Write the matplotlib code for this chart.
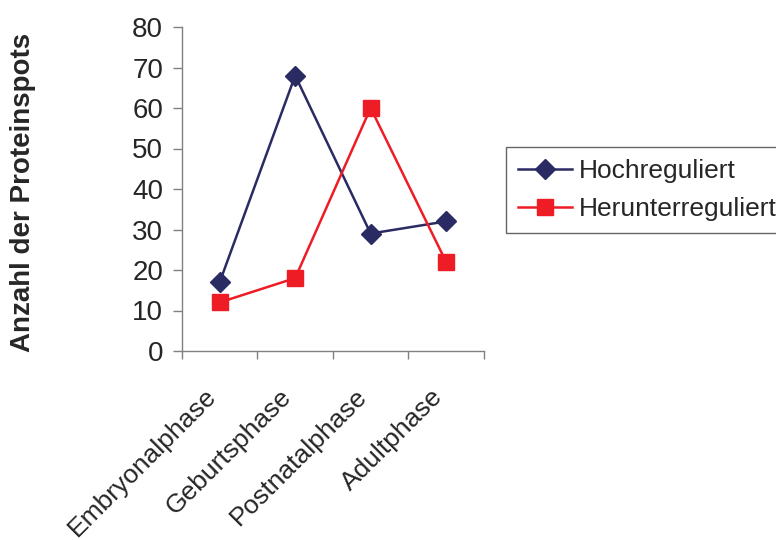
import numpy as np
import matplotlib.pyplot as plt
from matplotlib.transforms import ScaledTranslation

# -------------------------------
# Data
# -------------------------------
phases = ["Embryonalphase", "Geburtsphase", "Postnatalphase", "Adultphase"]
hochreguliert = [17, 68, 29, 32]
herunterreguliert = [12, 18, 60, 22]
y_ticks = [0, 10, 20, 30, 40, 50, 60, 70, 80]

plt.rcParams["font.family"] = ["Liberation Sans", "DejaVu Sans"]
text_color = "#262626"
axis_color = "#808080"

fig = plt.figure(figsize=(7.76, 5.4), dpi=100)
ax = fig.add_axes([0.2345, 0.35, 0.389, 0.60])

x = np.arange(len(phases))
ax.plot(x, hochreguliert, color="#2B2B63", linewidth=1.8, marker="D",
        markersize=10.5, label="Hochreguliert")
ax.plot(x, herunterreguliert, color="#EE1C25", linewidth=1.8, marker="s",
        markersize=11, label="Herunterreguliert")

ax.set_xlim(-0.5, len(phases) - 0.5)
ax.set_ylim(0, 80)
ax.set_yticks(y_ticks)

# boundary ticks between categories, labels at category centres
ax.set_xticks(np.arange(-0.5, len(phases)), labels=[])
ax.set_xticks(x, labels=phases, minor=True)
ax.tick_params(axis="x", which="major", length=5.5, width=1, color=axis_color)
ax.tick_params(axis="x", which="minor", length=0, pad=24)
ax.tick_params(axis="y", length=6.5, width=1, color=axis_color, pad=7)
shift = ScaledTranslation(-16 / 100, 0, fig.dpi_scale_trans)
for lab in ax.get_xticklabels(minor=True):
    lab.set_rotation(45)
    lab.set_ha("right")
    lab.set_va("top")
    lab.set_rotation_mode("anchor")
    lab.set_fontsize(19)
    lab.set_color(text_color)
    lab.set_transform(lab.get_transform() + shift)
for lab in ax.get_yticklabels():
    lab.set_fontsize(20)
    lab.set_color(text_color)

for side in ["top", "right"]:
    ax.spines[side].set_visible(False)
for side in ["left", "bottom"]:
    ax.spines[side].set_color(axis_color)
    ax.spines[side].set_linewidth(1)

fig.text(0.0296, 0.643, "Anzahl der Proteinspots", rotation=90, ha="center",
         va="center", fontsize=20, fontweight="bold", color=text_color)

leg = fig.legend(loc="upper left", bbox_to_anchor=(0.652, 0.728),
                 fontsize=19, frameon=True, fancybox=False, handlelength=2.05,
                 handletextpad=0.27, borderpad=0.45, labelspacing=0.55,
                 borderaxespad=0)
leg.get_frame().set_edgecolor("#404040")
leg.get_frame().set_linewidth(1)
for t in leg.get_texts():
    t.set_color(text_color)

fig.savefig("out.png", dpi=100, facecolor="white")
